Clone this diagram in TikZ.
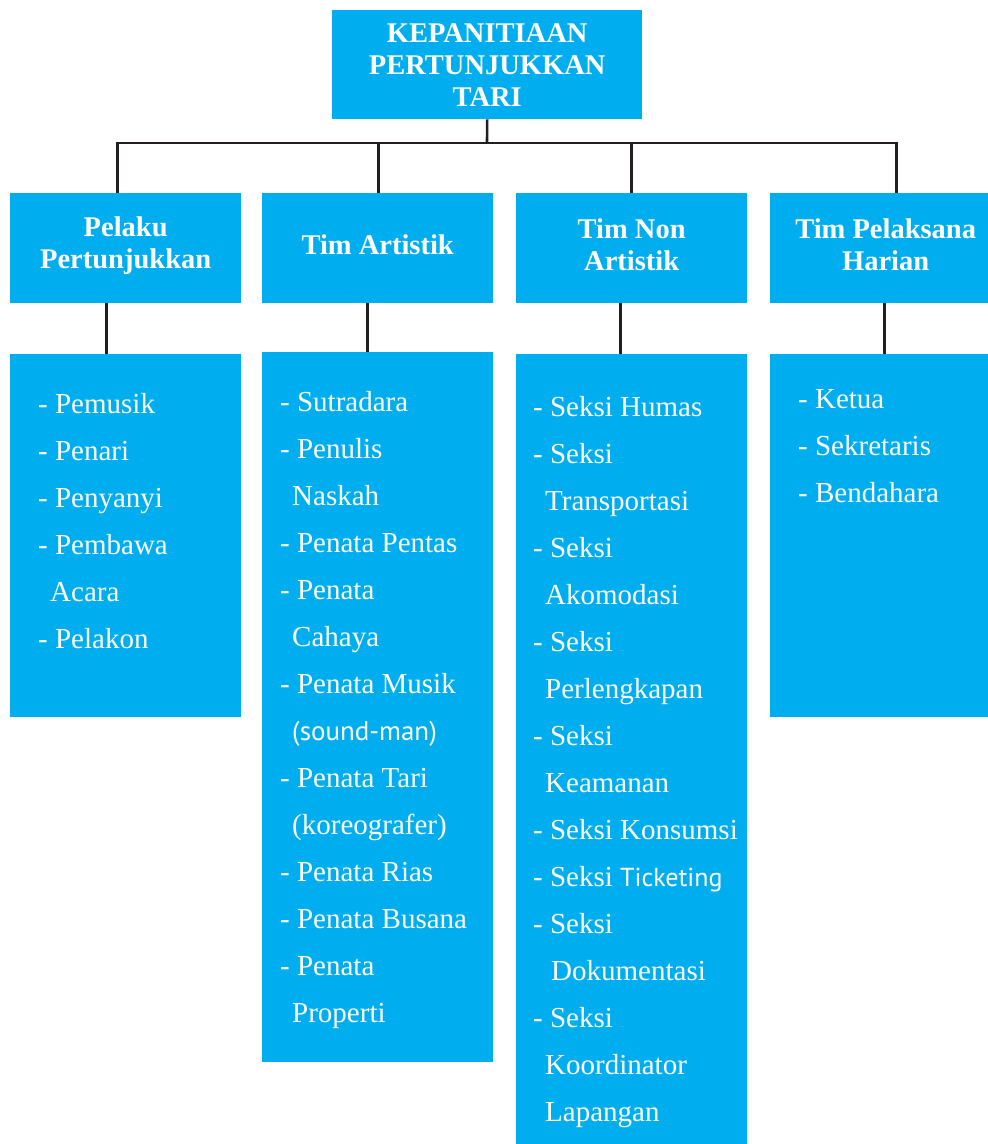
\documentclass[tikz,border=0pt]{standalone}
\usepackage{fontspec}
\setmainfont{Liberation Serif}
\newfontfamily\altsans{PT Sans}
\definecolor{boxcyan}{HTML}{00AEEF}
\definecolor{linedark}{HTML}{231F20}
\begin{document}
\begin{tikzpicture}[x=1pt,y=-1pt,
  box/.style={fill=boxcyan, draw=none, inner sep=0pt, anchor=north west, minimum width=231pt},
  title/.style={text=white, font=\bfseries\fontsize{28.5}{32}\selectfont, align=center},
  list/.style={text=white, inner sep=0pt, anchor=base west, font=\fontsize{29}{47}\selectfont},
  conn/.style={draw=linedark, line width=2.6pt}]
\useasboundingbox (0,0) rectangle (988,1144);
\clip (0,0) rectangle (988,1144);
\fill[white] (0,0) rectangle (988,1144);
% top box
\node[box, title, minimum width=310pt, minimum height=109pt] (top) at (332,10) {KEPANITIAAN\\PERTUNJUKKAN\\TARI};
% level 2
\node[box, title, minimum height=104pt] (b1) at (10,193) {Pelaku\\Pertunjukkan};
\node[box, title, minimum height=104pt] (b2) at (262,193) {Tim Artistik};
\node[box, title, minimum height=104pt] (b3) at (516,193) {Tim Non\\Artistik};
\node[box, title, minimum height=104pt] (b4) at (770,193) {Tim Pelaksana\\Harian};
\fill[boxcyan] (b1.south west) rectangle ([yshift=-6pt]b1.south east);
\fill[boxcyan] (b2.south west) rectangle ([yshift=-6pt]b2.south east);
\fill[boxcyan] (b3.south west) rectangle ([yshift=-6pt]b3.south east);
\fill[boxcyan] (b4.south west) rectangle ([yshift=-6pt]b4.south east);
% level 3
\node[box, minimum height=363pt] (l1) at (10,354) {};
\node[box, minimum height=710pt] (l2) at (262,352) {};
\node[box, minimum height=806pt] (l3) at (516,354) {};
\node[box, minimum height=363pt] (l4) at (770,354) {};
% connectors
\coordinate (bus) at (487,143);
\draw[conn] (top.south) -- (bus);
\draw[conn] ([xshift=-8.5pt]b1.north) |- (bus);
\draw[conn] ([xshift=0.5pt]b2.north) |- (bus);
\draw[conn] ([xshift=-0.5pt]b3.north) |- (bus);
\draw[conn] ([xshift=10.5pt]b4.north) |- (bus);
\draw[conn] ([xshift=-19.5pt,yshift=-6pt]b1.south) -- ([xshift=-19.5pt]l1.north);
\draw[conn] ([xshift=-10.5pt,yshift=-6pt]b2.south) -- ([xshift=-10.5pt]l2.north);
\draw[conn] ([xshift=-11.5pt,yshift=-6pt]b3.south) -- ([xshift=-11.5pt]l3.north);
\draw[conn] ([xshift=-1.5pt,yshift=-6pt]b4.south) -- ([xshift=-1.5pt]l4.north);
% lists
\node[list] (t1) at (38,413) {\parbox[t]{200pt}{\raggedright
- Pemusik\\
- Penari\\
- Penyanyi\\
- Pembawa\\
\hspace*{12pt}Acara\\
- Pelakon}};
\node[list] (t2) at (280,411) {\parbox[t]{210pt}{\raggedright
- Sutradara\\
- Penulis\\
\hspace*{12pt}Naskah\\
- Penata Pentas\\
- Penata\\
\hspace*{12pt}Cahaya\\
- Penata Musik\\
\hspace*{12pt}{\altsans\fontsize{27}{47}\selectfont (sound-man)}\\
- Penata Tari\\
\hspace*{12pt}(koreografer)\\
- Penata Rias\\
- Penata Busana\\
- Penata\\
\hspace*{12pt}Properti}};
\node[list] (t3) at (533,416) {\parbox[t]{210pt}{\raggedright
- Seksi Humas\\
- Seksi\\
\hspace*{12pt}Transportasi\\
- Seksi\\
\hspace*{12pt}Akomodasi\\
- Seksi\\
\hspace*{12pt}Perlengkapan\\
- Seksi\\
\hspace*{12pt}Keamanan\\
- Seksi Konsumsi\\
- Seksi {\altsans\fontsize{26}{47}\selectfont Ticketing}\\
- Seksi\\
\hspace*{18pt}Dokumentasi\\
- Seksi\\
\hspace*{12pt}Koordinator\\
\hspace*{12pt}Lapangan}};
\node[list] (t4) at (798,408) {\parbox[t]{180pt}{\raggedright
- Ketua\\
- Sekretaris\\
- Bendahara}};
\end{tikzpicture}
\end{document}
